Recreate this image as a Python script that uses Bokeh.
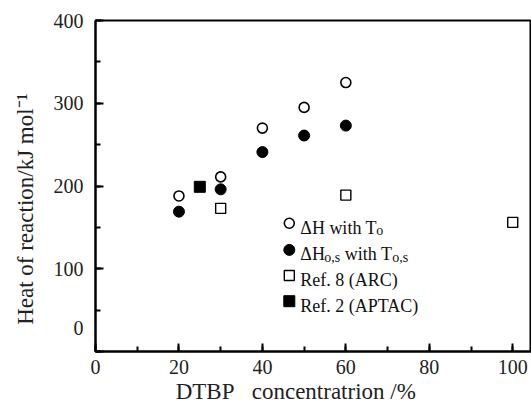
from bokeh.plotting import figure
from bokeh.models import Label, Range1d, SingleIntervalTicker, FixedTicker, LinearAxis
from bokeh.embed import file_html
from bokeh.resources import INLINE

# ---- data ----
conc_dh = [20, 30, 40, 50, 60]
dh_with_to = [188, 211, 270, 295, 325]
conc_dhos = [20, 30, 40, 50, 60]
dhos_with_tos = [169, 196, 241, 261, 273]
conc_arc = [30, 60, 100]
dh_arc = [173, 189, 156]
conc_aptac = [25]
dh_aptac = [199]

y_tick_values = [100, 200, 300, 400]
y_zero_label_pos = 27.8   # the "0" label is printed above the axis corner
x_title = "DTBP\u00a0\u00a0\u00a0concentratrion /%"
x_title_pos = 48
y_title = "Heat of reaction/kJ mol\u207b\u00b9"
y_title_pos = 172

FONT = "Liberation Serif"
TXT = "#222222"

p = figure(width=531, height=407, x_range=Range1d(0, 104.5), y_range=Range1d(0, 400),
           output_backend="svg", toolbar_location=None,
           min_border_left=95, min_border_right=0, min_border_top=20, min_border_bottom=56)

p.grid.visible = False
p.background_fill_color = "white"
p.border_fill_color = "white"
p.outline_line_color = "black"
p.outline_line_width = 2

p.xaxis.ticker = SingleIntervalTicker(interval=20, num_minor_ticks=2)
p.yaxis.ticker = SingleIntervalTicker(interval=100, num_minor_ticks=2)
for ax in (p.xaxis, p.yaxis):
    ax.axis_line_width = 2
    ax.axis_line_color = "black"
    ax.major_tick_in = 8
    ax.major_tick_out = 0
    ax.minor_tick_in = 5
    ax.minor_tick_out = 0
    ax.major_tick_line_width = 2
    ax.minor_tick_line_width = 2
    ax.major_label_text_font = FONT
    ax.major_label_text_font_size = "20px"
    ax.major_label_text_color = TXT
p.xaxis.major_label_standoff = 8
# main y axis draws the ticks only; labels come from the axis beside it
p.yaxis.major_label_overrides = {0: "", 100: "", 200: "", 300: "", 400: ""}
p.yaxis.major_label_standoff = 0


def label_axis(ticks, overrides, standoff, size, orientation="horizontal"):
    return LinearAxis(ticker=FixedTicker(ticks=ticks), major_label_overrides=overrides,
                      axis_line_alpha=0, major_tick_in=0, major_tick_out=0,
                      minor_tick_in=0, minor_tick_out=0, major_label_standoff=standoff,
                      major_label_orientation=orientation,
                      major_label_text_font=FONT, major_label_text_font_size=size,
                      major_label_text_color=TXT)


# y tick labels (with the raised "0")
p.add_layout(label_axis([y_zero_label_pos] + y_tick_values, {y_zero_label_pos: "0"}, 12, "20px"),
             "left")
# y title
p.add_layout(label_axis([y_title_pos], {y_title_pos: y_title}, 12, "23px", "vertical"), "left")
# x title, under the axis at its original horizontal position
p.add_layout(label_axis([x_title_pos], {x_title_pos: x_title}, 2, "23px"), "below")

# ---- data markers ----
p.scatter(conc_dh, dh_with_to, marker="circle", size=10, fill_color="white",
          line_color="black", line_width=1.6)
p.scatter(conc_dhos, dhos_with_tos, marker="circle", size=11, fill_color="black",
          line_color="black")
p.scatter(conc_arc, dh_arc, marker="square", size=10, fill_color="white",
          line_color="black", line_width=1.4)
p.scatter(conc_aptac, dh_aptac, marker="square", size=11, fill_color="black",
          line_color="black")

# ---- legend (manual, to allow subscripts) ----
LEG_X = 46.45
LEG_Y = [155, 122.8, 91.8, 60.8]
TXT_OFF = 11
BASE_OFF = -4.5
SUB_OFF = -7.5
MAIN_PX = 18
SUB_PX = 14
W = {"Δ": 0.612, "H": 0.722, " ": 0.25, "w": 0.722, "i": 0.278, "t": 0.278, "h": 0.5,
     "T": 0.611, "o": 0.5, "s": 0.389, ",": 0.25}


def tw(s, px):
    return sum(W[c] for c in s) * px


p.scatter([LEG_X], [LEG_Y[0]], marker="circle", size=10, fill_color="white",
          line_color="black", line_width=1.6)
p.scatter([LEG_X], [LEG_Y[1]], marker="circle", size=11, fill_color="black", line_color="black")
p.scatter([LEG_X], [LEG_Y[2]], marker="square", size=10, fill_color="white",
          line_color="black", line_width=1.4)
p.scatter([LEG_X], [LEG_Y[3]], marker="square", size=11, fill_color="black", line_color="black")


def seg(text, row, xoff, sub=False):
    p.add_layout(Label(x=LEG_X, y=LEG_Y[row], x_offset=xoff,
                       y_offset=SUB_OFF if sub else BASE_OFF, text=text,
                       text_align="left", text_baseline="alphabetic", text_font=FONT,
                       text_font_size=f"{SUB_PX if sub else MAIN_PX}px", text_color="#111111"))


# row 1: ΔH with T_o
x = TXT_OFF
seg("ΔH with T", 0, x)
x += tw("ΔH with T", MAIN_PX)
seg("o", 0, x, sub=True)
# row 2: ΔH_o,s with T_o,s
x = TXT_OFF
seg("ΔH", 1, x)
x += tw("ΔH", MAIN_PX)
seg("o,s", 1, x, sub=True)
x += tw("o,s", SUB_PX) + tw(" ", MAIN_PX)
seg("with T", 1, x)
x += tw("with T", MAIN_PX)
seg("o,s", 1, x, sub=True)
# rows 3-4
seg("Ref. 8 (ARC)", 2, TXT_OFF)
seg("Ref. 2 (APTAC)", 3, TXT_OFF)

open("out.html", "w").write(file_html(p, INLINE))
